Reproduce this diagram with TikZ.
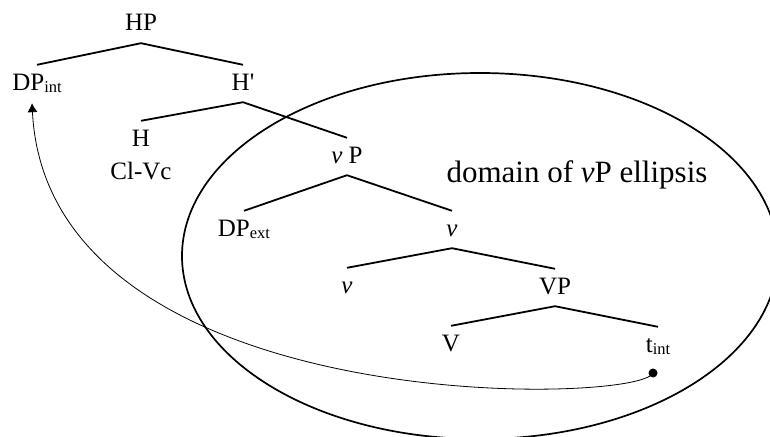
\documentclass[tikz,border=0pt]{standalone}
\usepackage{fontspec}
\newfontfamily\tnr{Liberation Serif}
\usetikzlibrary{arrows.meta,calc}
\newcommand{\lsub}[1]{{\fontsize{16.5}{16.5}\selectfont\raisebox{-2.5pt}{#1}}}
\begin{document}
\begin{tikzpicture}[x=1pt,y=-1pt,
  lbl/.style={font=\tnr\fontsize{25}{29}\selectfont, anchor=base, inner xsep=0pt, inner ysep=2pt, text height=23pt, text depth=10pt},
  note/.style={font=\tnr\fontsize{31}{35}\selectfont, anchor=base, inner sep=0pt},
  branch/.style={line width=1.8pt},
  domainline/.style={line width=1.7pt},
  movement/.style={line width=0.8pt},
  trace/.style={circle, fill=black, inner sep=0pt, minimum size=9pt}]
\path[use as bounding box, clip] (0,0) rectangle (770,436);

% tree labels
\node[lbl] (HP)    at (141,31)  {HP};
\node[lbl] (DPint) at (37,90)   {DP\lsub{int}};
\node[lbl] (Hbar)  at (243,90)  {H\symbol{39}};
\node[lbl] (H)     at (141,146) {H};
\node[lbl] (ClVc)  at (141,179) {Cl-Vc};
\node[lbl] (vP)    at (347,163) {\textit{v} P};
\node[lbl] (DPext) at (244,236) {DP\lsub{ext}};
\node[lbl] (vbar)  at (452,236) {\textit{v}};
\node[lbl] (vhead) at (347,293) {\textit{v}};
\node[lbl] (VP)    at (555,294) {VP};
\node[lbl] (V)     at (451,351) {V};
\node[lbl] (tint)  at (658,352) {t\lsub{int}};

\node[note] (domain) at (577,182) {domain of \textit{v}P ellipsis};

% branches
\draw[branch] (DPint.north) -- (HP.south) -- (Hbar.north);
\draw[branch] (H.north) -- (Hbar.south) -- (vP.north);
\draw[branch] (DPext.north) -- (vP.south) -- (vbar.north);
\draw[branch] (vhead.north) -- (vbar.south) -- (VP.north);
\draw[branch] (V.north) -- (VP.south) -- (tint.north);

% ellipsis domain
\draw[domainline] (480,256) ellipse [x radius=298pt, y radius=183pt];

% movement
\node[trace] (dot) at (653,373) {};
\draw[movement, -{Latex[length=9pt,width=10pt]}] (dot.center) .. controls (640,405) and (48,420) .. ([xshift=-5pt,yshift=-1pt]DPint.south);
\end{tikzpicture}
\end{document}
